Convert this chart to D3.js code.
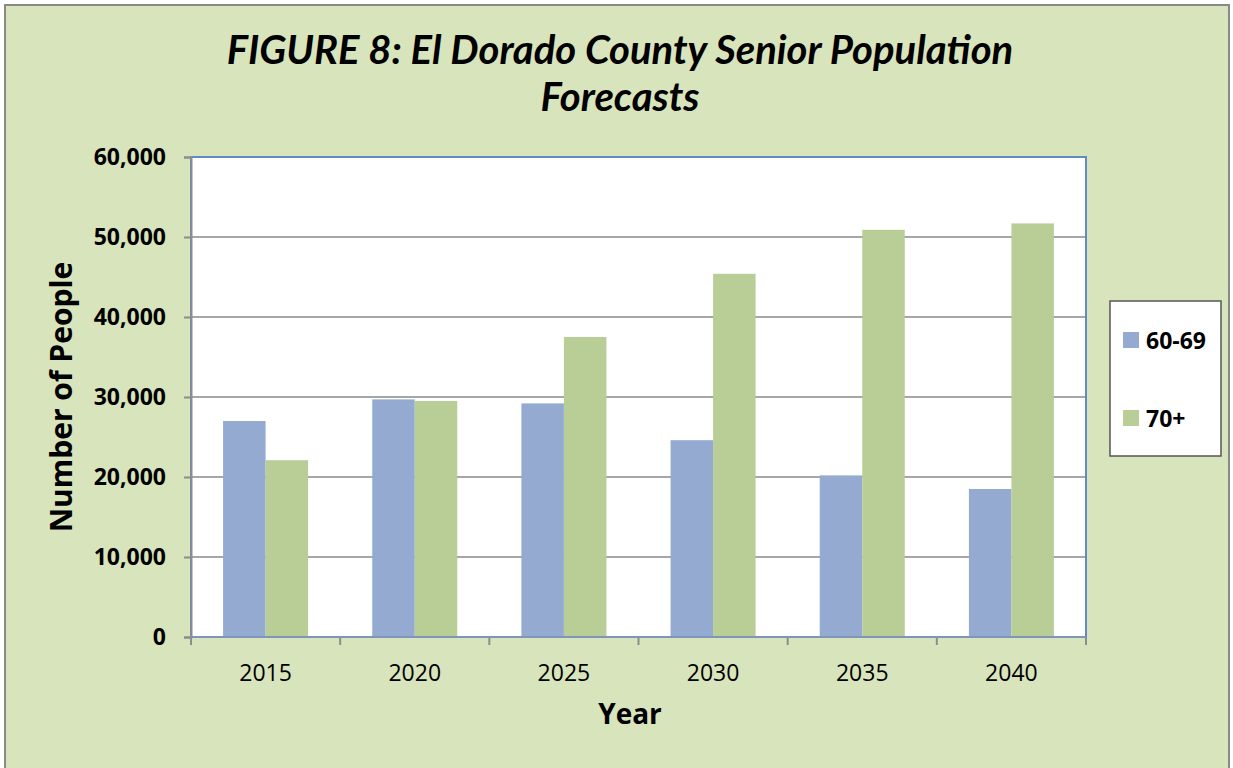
<!DOCTYPE html>
<html>
<head>
  <meta charset="utf-8">
  <title>Senior Population Forecasts</title>
  <style>
    body { margin: 0; background: #fff; }
  </style>
</head>
<body>
<script src="https://cdnjs.cloudflare.com/ajax/libs/d3/7.8.5/d3.min.js"></script>
<script>
// data
const years = ["2015", "2020", "2025", "2030", "2035", "2040"];
const seriesNames = ["60-69", "70+"];
const age6069 = [27000, 29700, 29200, 24600, 20200, 18500];
const age70plus = [22100, 29500, 37500, 45400, 50900, 51700];
const yTicks = [0, 10000, 20000, 30000, 40000, 50000, 60000];
const colors = ["#95aad1", "#b9cd96"];

const width = 1233, height = 768;
const plot = { left: 191, top: 157, right: 1086, bottom: 637 };

const svg = d3.select("body").append("svg")
  .attr("width", width)
  .attr("height", height);

// chart background + outer frame
svg.append("rect")
  .attr("x", 5).attr("y", 5)
  .attr("width", width - 9).attr("height", height + 10)
  .attr("fill", "#d8e4bc")
  .attr("stroke", "#898989")
  .attr("stroke-width", 2);

// title
const title = svg.append("text")
  .attr("text-anchor", "middle")
  .attr("font-family", "Lato, 'Open Sans', sans-serif")
  .attr("font-weight", "bold")
  .attr("font-style", "italic")
  .attr("font-size", 40)
  .attr("fill", "#000");
title.append("tspan").attr("x", 620).attr("y", 64).text("FIGURE 8: El Dorado County Senior Population");
title.append("tspan").attr("x", 620).attr("y", 111).text("Forecasts");

// plot area
svg.append("rect")
  .attr("x", plot.left).attr("y", plot.top)
  .attr("width", plot.right - plot.left)
  .attr("height", plot.bottom - plot.top)
  .attr("fill", "#fff");

const x = d3.scaleBand()
  .domain(years)
  .range([plot.left, plot.right])
  .paddingInner(0.43)
  .paddingOuter(0.215);

const x1 = d3.scaleBand()
  .domain(seriesNames)
  .range([0, x.bandwidth()]);

const y = d3.scaleLinear()
  .domain([0, 60000])
  .range([plot.bottom, plot.top]);

// gridlines
svg.append("g")
  .selectAll("line")
  .data(yTicks.slice(1, -1))
  .join("line")
  .attr("x1", plot.left).attr("x2", plot.right)
  .attr("y1", d => y(d)).attr("y2", d => y(d))
  .attr("stroke", "#a6a6a6")
  .attr("stroke-width", 2);

// bars
const rows = years.map((yr, i) => ({ year: yr, values: [age6069[i], age70plus[i]] }));

svg.append("g")
  .selectAll("g")
  .data(rows)
  .join("g")
  .attr("transform", d => `translate(${x(d.year)},0)`)
  .selectAll("rect")
  .data(d => d.values.map((v, k) => ({ key: seriesNames[k], value: v, k })))
  .join("rect")
  .attr("x", d => x1(d.key))
  .attr("y", d => y(d.value))
  .attr("width", x1.bandwidth())
  .attr("height", d => y(0) - y(d.value))
  .attr("fill", d => colors[d.k]);

// plot border (blue)
svg.append("rect")
  .attr("x", plot.left).attr("y", plot.top)
  .attr("width", plot.right - plot.left)
  .attr("height", plot.bottom - plot.top)
  .attr("fill", "none")
  .attr("stroke", "#5f8ac6")
  .attr("stroke-width", 2);

// y axis
const yAxis = svg.append("g")
  .attr("transform", `translate(${plot.left},0)`)
  .call(d3.axisLeft(y).tickValues(yTicks).tickSize(7).tickPadding(18).tickFormat(d3.format(",")));
yAxis.select(".domain").attr("stroke", "#8c8c8c").attr("stroke-width", 2);
yAxis.selectAll(".tick line").attr("stroke", "#8c8c8c").attr("stroke-width", 2);
yAxis.selectAll(".tick text")
  .attr("font-family", "'Open Sans', sans-serif")
  .attr("font-weight", "bold")
  .attr("font-size", 23)
  .attr("fill", "#000");

// x axis: ticks on category boundaries
const xAxis = svg.append("g")
  .attr("transform", `translate(0,${plot.bottom})`)
  .call(d3.axisBottom(x).tickSize(0).tickPadding(28));
xAxis.select(".domain").remove();
xAxis.selectAll(".tick text")
  .attr("font-family", "'Open Sans', sans-serif")
  .attr("font-size", 23)
  .attr("fill", "#000");

const step = x.step();
svg.append("g")
  .selectAll("line")
  .data(d3.range(years.length + 1))
  .join("line")
  .attr("x1", i => plot.left + i * step)
  .attr("x2", i => plot.left + i * step)
  .attr("y1", plot.bottom)
  .attr("y2", plot.bottom + 8)
  .attr("stroke", "#8c8c8c")
  .attr("stroke-width", 2);
svg.append("line")
  .attr("x1", plot.left).attr("x2", plot.right)
  .attr("y1", plot.bottom).attr("y2", plot.bottom)
  .attr("stroke", "#7e96b8").attr("stroke-width", 2);

// axis titles
svg.append("text")
  .attr("x", 630).attr("y", 724)
  .attr("text-anchor", "middle")
  .attr("font-family", "'Open Sans', sans-serif")
  .attr("font-weight", "bold")
  .attr("font-size", 28)
  .text("Year");

svg.append("text")
  .attr("transform", "translate(72,397) rotate(-90)")
  .attr("text-anchor", "middle")
  .attr("font-family", "'Open Sans', sans-serif")
  .attr("font-weight", "bold")
  .attr("font-size", 30)
  .text("Number of People");

// legend
const legend = svg.append("g");
legend.append("rect")
  .attr("x", 1110).attr("y", 301)
  .attr("width", 111).attr("height", 155)
  .attr("fill", "#fff")
  .attr("stroke", "#555")
  .attr("stroke-width", 1.5);

const li = legend.selectAll("g")
  .data(seriesNames)
  .join("g")
  .attr("transform", (d, i) => `translate(1123,${332 + i * 78})`);
li.append("rect")
  .attr("width", 16).attr("height", 16)
  .attr("fill", (d, i) => colors[i]);
li.append("text")
  .attr("x", 23).attr("y", 17)
  .attr("font-family", "'Open Sans', sans-serif")
  .attr("font-weight", "bold")
  .attr("font-size", 23)
  .text(d => d);
</script>
</body>
</html>
